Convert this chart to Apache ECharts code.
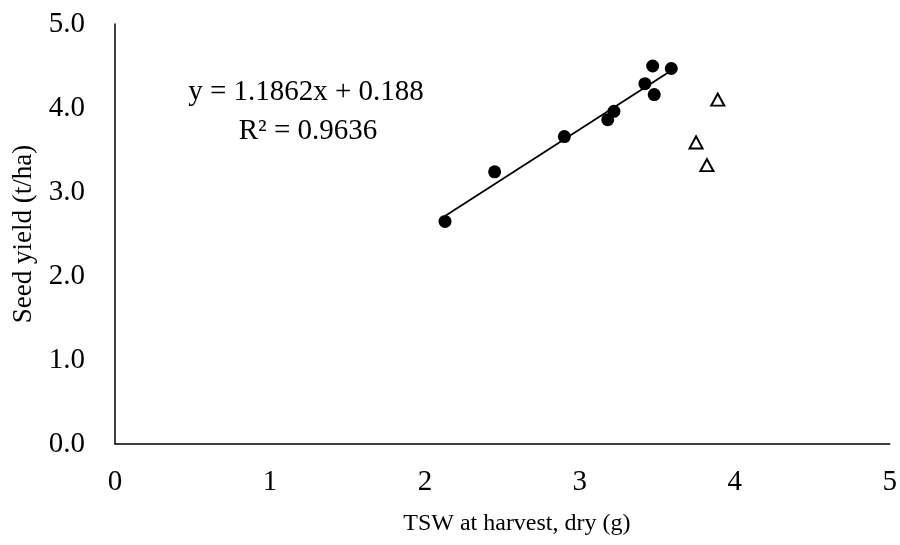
<!DOCTYPE html>
<html lang="en">
<head>
    <meta charset="UTF-8">
    <title>Seed yield vs TSW</title>
    <style>
        html, body { margin: 0; padding: 0; background: #fff; }
        #container { width: 900px; height: 545px; }
    </style>
</head>
<body>
    <div id="container"></div>
    <script type="text/javascript" src="https://cdn.jsdelivr.net/npm/echarts@6/dist/echarts.min.js"></script>
    <script type="text/javascript">
        // filled dots (used for the trendline)
        var tswDots = [2.13, 2.45, 2.90, 3.18, 3.22, 3.42, 3.47, 3.48, 3.59];
        var yieldDots = [2.65, 3.24, 3.66, 3.86, 3.96, 4.29, 4.50, 4.16, 4.47];
        // open triangles
        var tswTri = [3.89, 3.75, 3.82];
        var yieldTri = [4.10, 3.59, 3.32];
        // trendline y = slope*x + intercept, as printed on the chart
        var slope = 1.1862;
        var intercept = 0.188;
        var eqText = 'y = 1.1862x + 0.188';
        var r2Text = 'R² = 0.9636';

        var dots = tswDots.map(function (x, i) { return [x, yieldDots[i]]; });
        var tris = tswTri.map(function (x, i) { return [x, yieldTri[i]]; });
        var xMin = Math.min.apply(null, tswDots);
        var xMax = Math.max.apply(null, tswDots);
        var trend = [[xMin, slope * xMin + intercept], [xMax, slope * xMax + intercept]];

        var font = 'Liberation Serif';
        var dom = document.getElementById('container');
        var myChart = echarts.init(dom);
        var option = {
            animation: false,
            textStyle: { fontFamily: font },
            grid: { left: 115, right: 9, top: 24, bottom: 101 },
            xAxis: {
                type: 'value',
                min: 0,
                max: 5,
                interval: 1,
                name: 'TSW at harvest, dry (g)',
                nameLocation: 'middle',
                nameGap: 68,
                nameTextStyle: { fontFamily: font, fontSize: 24, color: '#000', padding: [0, 0, 0, 29] },
                axisLine: { lineStyle: { color: '#000', width: 1.5 } },
                axisTick: { show: false },
                splitLine: { show: false },
                axisLabel: { fontFamily: font, fontSize: 29, color: '#000', margin: 24 }
            },
            yAxis: {
                type: 'value',
                min: 0,
                max: 5,
                interval: 1,
                name: 'Seed yield (t/ha)',
                nameLocation: 'middle',
                nameGap: 76,
                nameTextStyle: { fontFamily: font, fontSize: 27, color: '#000' },
                axisLine: { show: true, lineStyle: { color: '#000', width: 1.5 } },
                axisTick: { show: false },
                splitLine: { show: false },
                axisLabel: {
                    fontFamily: font, fontSize: 29, color: '#000', margin: 30,
                    formatter: function (v) { return v.toFixed(1); }
                }
            },
            series: [
                {
                    type: 'line',
                    data: trend,
                    symbol: 'none',
                    lineStyle: { color: '#000', width: 1.8 },
                    z: 1
                },
                {
                    type: 'scatter',
                    data: dots,
                    symbol: 'circle',
                    symbolSize: 13,
                    itemStyle: { color: '#000', opacity: 1 },
                    z: 2
                },
                {
                    type: 'scatter',
                    data: tris,
                    symbol: 'triangle',
                    symbolSize: [13, 12],
                    itemStyle: { color: '#fff', borderColor: '#000', borderWidth: 2, opacity: 1 },
                    z: 2
                }
            ],
            graphic: [
                {
                    type: 'text',
                    x: 306, y: 92,
                    style: {
                        text: eqText,
                        fontFamily: font, fontSize: 29,
                        fill: '#000',
                        align: 'center', verticalAlign: 'middle'
                    }
                },
                {
                    type: 'text',
                    x: 308, y: 131,
                    style: {
                        text: r2Text,
                        fontFamily: font, fontSize: 29,
                        fill: '#000',
                        align: 'center', verticalAlign: 'middle'
                    }
                }
            ]
        };
        myChart.setOption(option);
    </script>
</body>
</html>
